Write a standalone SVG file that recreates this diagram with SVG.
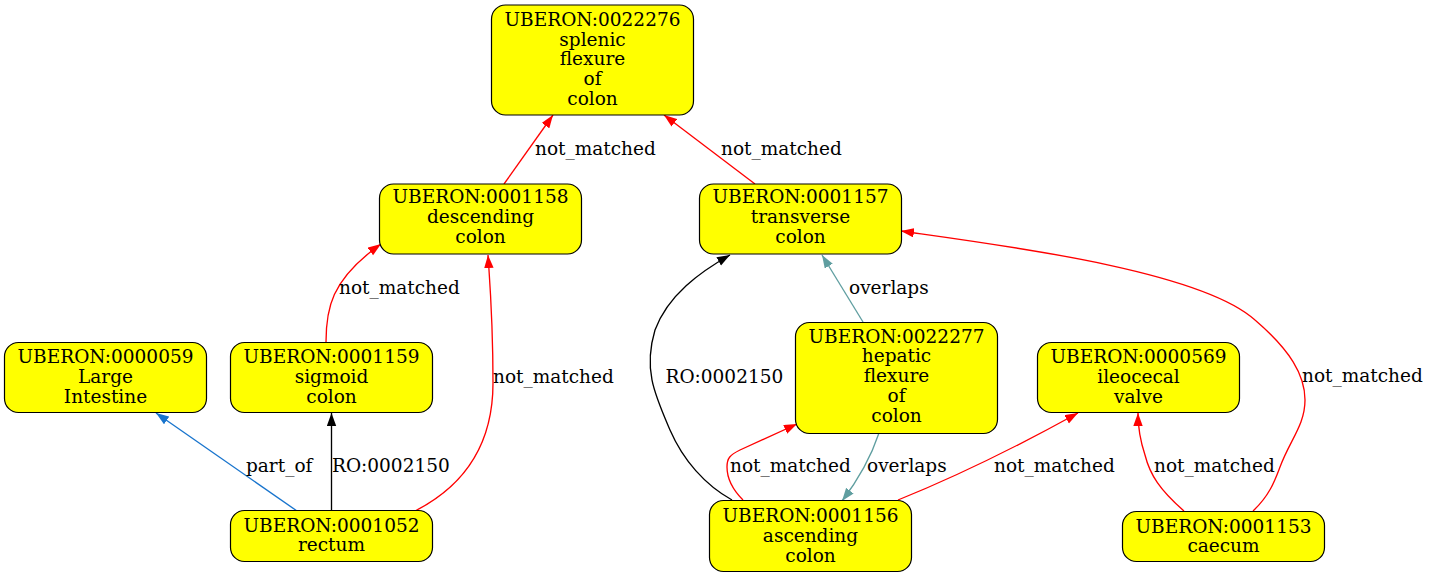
<svg xmlns="http://www.w3.org/2000/svg" width="1431" height="577" viewBox="0 0 1431 577">
  <style>
    .node rect { fill: #ffff00; stroke: #000000; stroke-width: 1.2; }
    text { font-family: "DejaVu Serif", "Liberation Serif", serif; font-size: 18.5px; fill: #000000; }
    .node text { text-anchor: middle; }
    .edge { fill: none; stroke-width: 1.33; }
    .red { stroke: #ff0000; }
    .black { stroke: #000000; }
    .blue { stroke: #1874cd; }
    .teal { stroke: #5f9ea0; }
  </style>
  <defs>
    <marker id="arrow-red" markerUnits="userSpaceOnUse" markerWidth="14" markerHeight="10" refX="13" refY="4.7" orient="auto">
      <path d="M0,0 L13,4.7 L0,9.4 Z" fill="#ff0000"/>
    </marker>
    <marker id="arrow-black" markerUnits="userSpaceOnUse" markerWidth="14" markerHeight="10" refX="13" refY="4.7" orient="auto">
      <path d="M0,0 L13,4.7 L0,9.4 Z" fill="#000000"/>
    </marker>
    <marker id="arrow-blue" markerUnits="userSpaceOnUse" markerWidth="14" markerHeight="10" refX="13" refY="4.7" orient="auto">
      <path d="M0,0 L13,4.7 L0,9.4 Z" fill="#1874cd"/>
    </marker>
    <marker id="arrow-teal" markerUnits="userSpaceOnUse" markerWidth="14" markerHeight="10" refX="13" refY="4.7" orient="auto">
      <path d="M0,0 L13,4.7 L0,9.4 Z" fill="#5f9ea0"/>
    </marker>
  </defs>
  <rect width="1431" height="577" fill="#ffffff"/>

  <!-- connectors -->
  <g id="edges">
    <path class="edge red" d="M504,184 L553,115" marker-end="url(#arrow-red)"/>
    <text x="535" y="154.5">not_matched</text>

    <path class="edge red" d="M755,184 L664,115" marker-end="url(#arrow-red)"/>
    <text x="721" y="154.5">not_matched</text>

    <path class="edge red" d="M326,342 C326,310 330,280 381,244" marker-end="url(#arrow-red)"/>
    <text x="339" y="293.5">not_matched</text>

    <path class="edge red" d="M415,511 C460,488 493,450 493,383 C493,320 490,285 488,255" marker-end="url(#arrow-red)"/>
    <text x="493" y="383">not_matched</text>

    <path class="edge blue" d="M297,511 L156,413" marker-end="url(#arrow-blue)"/>
    <text x="246" y="471.5">part_of</text>

    <path class="edge black" d="M331.5,510 L331.5,413" marker-end="url(#arrow-black)"/>
    <text x="332" y="471.5">RO:0002150</text>

    <path class="edge black" d="M732,500 C705,485 683,460 670,430 C655,395 643,370 655,330 C668,295 700,272 730,255" marker-end="url(#arrow-black)"/>
    <text x="665.5" y="383">RO:0002150</text>

    <path class="edge teal" d="M863,322 L822,255" marker-end="url(#arrow-teal)"/>
    <text x="849" y="293.5">overlaps</text>

    <path class="edge red" d="M743,500 C735,492 727,480 727,467 C727,458 730,455 740,450 L797,424" marker-end="url(#arrow-red)"/>
    <text x="730" y="471.5">not_matched</text>

    <path class="edge teal" d="M879,433 C870,460 858,480 842,501" marker-end="url(#arrow-teal)"/>
    <text x="867" y="471.5">overlaps</text>

    <path class="edge red" d="M898,500 C960,475 1020,445 1078,413" marker-end="url(#arrow-red)"/>
    <text x="994" y="471.5">not_matched</text>

    <path class="edge red" d="M1184,511 C1160,490 1150,475 1145,455 C1140,440 1138,425 1138,413" marker-end="url(#arrow-red)"/>
    <text x="1154" y="471.5">not_matched</text>

    <path class="edge red" d="M1253,511 C1270,495 1275,480 1280,467 C1290,440 1305,425 1305,400 C1305,375 1290,350 1255,320 C1200,270 1000,245 901,231" marker-end="url(#arrow-red)"/>
    <text x="1302" y="382">not_matched</text>
  </g>

  <!-- nodes -->
  <g id="UBERON_0022276" class="node">
    <rect x="491.5" y="5" width="202" height="110" rx="14"/>
    <text x="592.5" y="26">UBERON:0022276</text>
    <text x="592.5" y="45.5">splenic</text>
    <text x="592.5" y="65">flexure</text>
    <text x="592.5" y="85">of</text>
    <text x="592.5" y="105">colon</text>
  </g>

  <g id="UBERON_0001158" class="node">
    <rect x="379.5" y="184" width="202" height="70" rx="14"/>
    <text x="480.5" y="203.3">UBERON:0001158</text>
    <text x="480.5" y="223.3">descending</text>
    <text x="480.5" y="243.3">colon</text>
  </g>

  <g id="UBERON_0001157" class="node">
    <rect x="699.5" y="184" width="202" height="70" rx="14"/>
    <text x="800.5" y="203.3">UBERON:0001157</text>
    <text x="800.5" y="223.3">transverse</text>
    <text x="800.5" y="243.3">colon</text>
  </g>

  <g id="UBERON_0000059" class="node">
    <rect x="4.5" y="342.5" width="202" height="70" rx="14"/>
    <text x="105.5" y="362.7">UBERON:0000059</text>
    <text x="105.5" y="382.7">Large</text>
    <text x="105.5" y="402.7">Intestine</text>
  </g>

  <g id="UBERON_0001159" class="node">
    <rect x="230.5" y="342.5" width="202" height="70" rx="14"/>
    <text x="331.5" y="362.7">UBERON:0001159</text>
    <text x="331.5" y="382.7">sigmoid</text>
    <text x="331.5" y="402.7">colon</text>
  </g>

  <g id="UBERON_0022277" class="node">
    <rect x="795.5" y="322.5" width="202" height="111" rx="14"/>
    <text x="896.5" y="342.5">UBERON:0022277</text>
    <text x="896.5" y="362">hepatic</text>
    <text x="896.5" y="381.7">flexure</text>
    <text x="896.5" y="401.5">of</text>
    <text x="896.5" y="421.5">colon</text>
  </g>

  <g id="UBERON_0000569" class="node">
    <rect x="1037.5" y="342.5" width="202" height="70" rx="14"/>
    <text x="1138.5" y="362.7">UBERON:0000569</text>
    <text x="1138.5" y="382.7">ileocecal</text>
    <text x="1138.5" y="402.7">valve</text>
  </g>

  <g id="UBERON_0001052" class="node">
    <rect x="230.5" y="510.5" width="202" height="51" rx="14"/>
    <text x="331.5" y="531.7">UBERON:0001052</text>
    <text x="331.5" y="551">rectum</text>
  </g>

  <g id="UBERON_0001156" class="node">
    <rect x="709.5" y="500.5" width="202" height="71" rx="14"/>
    <text x="810.5" y="521.5">UBERON:0001156</text>
    <text x="810.5" y="541.5">ascending</text>
    <text x="810.5" y="561.5">colon</text>
  </g>

  <g id="UBERON_0001153" class="node">
    <rect x="1122.5" y="511.5" width="202" height="50" rx="14"/>
    <text x="1223.5" y="532.5">UBERON:0001153</text>
    <text x="1223.5" y="552">caecum</text>
  </g>
</svg>
